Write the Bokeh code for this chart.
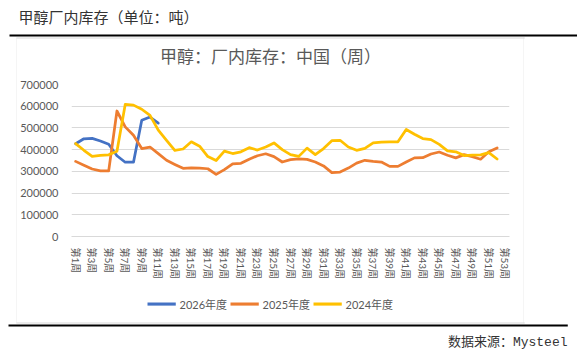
from bokeh.plotting import figure
from bokeh.models import Range1d, Label, NumeralTickFormatter, FixedTicker
from bokeh.embed import file_html
from bokeh.resources import INLINE

# ---------------- data ----------------
weeks = ["第%d周" % i for i in range(1, 54)]
series_names = ["2026年度", "2025年度", "2024年度"]
inv_2026 = [427000, 450000, 452000, 440000, 425000, 372000, 342000, 342000,
            535000, 550000, 522000]
inv_2025 = [346000, 328000, 311000, 302000, 302000, 578000, 505000, 466000,
            405000, 412000, 382000, 351000, 332000, 314000, 316000, 315000,
            312000, 286000, 308000, 335000, 337000, 356000, 372000, 381000,
            368000, 343000, 354000, 358000, 355000, 343000, 325000, 294000,
            297000, 315000, 338000, 351000, 346000, 343000, 323000, 323000,
            343000, 362000, 363000, 380000, 389000, 374000, 362000, 377000,
            368000, 356000, 390000, 408000]
inv_2024 = [428000, 397000, 369000, 374000, 376000, 393000, 608000, 605000,
            586000, 558000, 490000, 443000, 397000, 403000, 436000, 416000,
            368000, 350000, 393000, 382000, 390000, 409000, 398000, 412000,
            431000, 400000, 377000, 369000, 407000, 377000, 405000, 441000,
            443000, 412000, 397000, 406000, 431000, 435000, 436000, 436000,
            493000, 471000, 451000, 446000, 424000, 394000, 390000, 373000,
            375000, 376000, 386000, 357000]
y_ticks = [0, 100000, 200000, 300000, 400000, 500000, 600000, 700000]
colors = ["#4472C4", "#ED7D31", "#FFC000"]

page_title = "甲醇厂内库存（单位：吨）"
chart_title = "甲醇：厂内库存：中国（周）"
source_text = "数据来源：Mysteel"

CJK = "'Noto Sans CJK SC'"
AX_FONT = "Lato, 'Noto Sans CJK SC'"
GREY = "#595959"

week_pos = list(range(1, len(weeks) + 1))
label_ticks = week_pos[::2]

p = figure(width=577, height=356, x_range=Range1d(0.5, len(weeks) + 0.5),
           y_range=Range1d(0, 700000), output_backend="svg",
           toolbar_location=None, min_border_left=71, min_border_right=68,
           min_border_top=84, min_border_bottom=120,
           background_fill_color="white", border_fill_color="white",
           outline_line_color=None)

# axes
p.xaxis.ticker = FixedTicker(ticks=label_ticks)
p.xaxis.major_label_overrides = {t: weeks[t - 1] for t in label_ticks}
p.xaxis.axis_line_color = "#D9D9D9"
p.xaxis.major_tick_line_color = None
p.xaxis.minor_tick_line_color = None
p.xaxis.major_label_orientation = "vertical"
p.xaxis.major_label_text_font_size = "10px"
p.xaxis.major_label_text_color = GREY
p.xaxis.major_label_text_font = AX_FONT
p.xaxis.major_label_standoff = 5
p.xgrid.grid_line_color = None

p.yaxis.ticker = FixedTicker(ticks=y_ticks)
p.yaxis.formatter = NumeralTickFormatter(format="0")
p.yaxis.axis_line_color = None
p.yaxis.major_tick_line_color = None
p.yaxis.minor_tick_line_color = None
p.yaxis.major_label_text_font_size = "11px"
p.yaxis.major_label_text_color = GREY
p.yaxis.major_label_text_font = AX_FONT
p.yaxis.major_label_standoff = 7
p.ygrid.ticker = FixedTicker(ticks=y_ticks)
p.ygrid.grid_line_color = "#D9D9D9"
p.ygrid.grid_line_width = 1

# lines
for vals, col in zip([inv_2026, inv_2025, inv_2024], colors):
    p.line(x=week_pos[:len(vals)], y=vals, line_color=col, line_width=2.75,
           line_join="round", line_cap="round")


def rect_label(x, y, w, h, color):
    # a blank label whose padded background forms a filled rectangle (canvas px)
    return Label(x=x, y=y, x_units="canvas", y_units="canvas", text=" ",
                 text_font_size="1px", text_align="left", text_baseline="top",
                 padding=(0, w, h, 0), background_fill_color=color,
                 background_fill_alpha=1, border_line_color=None)


def text_label(x, y, text, font, size, color, align):
    return Label(x=x, y=y, x_units="canvas", y_units="canvas", text=text,
                 text_font=font, text_font_size=size, text_color=color,
                 text_baseline="middle", text_align=align)


# page chrome (side panels, so nothing is clipped to the plot frame)
p.add_layout(text_label(18, 16, page_title, CJK, "15px", "#333333", "left"), "above")
p.add_layout(text_label(270, 55, chart_title, CJK, "17px", GREY, "center"), "above")
p.add_layout(rect_label(9, 34, 568, 1, "#000000"), "above")
p.add_layout(rect_label(16, 37, 508, 0, "#D9D9D9"), "above")
p.add_layout(rect_label(16, 322, 508, 0, "#D9D9D9"), "below")
p.add_layout(rect_label(8, 324, 559, 1, "#000000"), "below")
p.add_layout(rect_label(16, 37, 0, 285, "#D9D9D9"), "left")
p.add_layout(rect_label(523, 37, 0, 285, "#D9D9D9"), "right")
p.add_layout(text_label(567, 342, source_text, "'Liberation Mono', 'Noto Sans CJK SC'",
                        "13px", "#333333", "right"), "below")

# legend: swatch + name for each series, centred under the chart
leg_x0, leg_step, leg_y = 147, 83, 304
for i, (name, col) in enumerate(zip(series_names, colors)):
    x0 = leg_x0 + i * leg_step
    p.add_layout(rect_label(x0, leg_y - 2, 28, 2, col), "above")
    p.add_layout(text_label(x0 + 32, leg_y, name, AX_FONT, "11px", GREY, "left"), "below")

open("out.html", "w").write(file_html(p, INLINE))
